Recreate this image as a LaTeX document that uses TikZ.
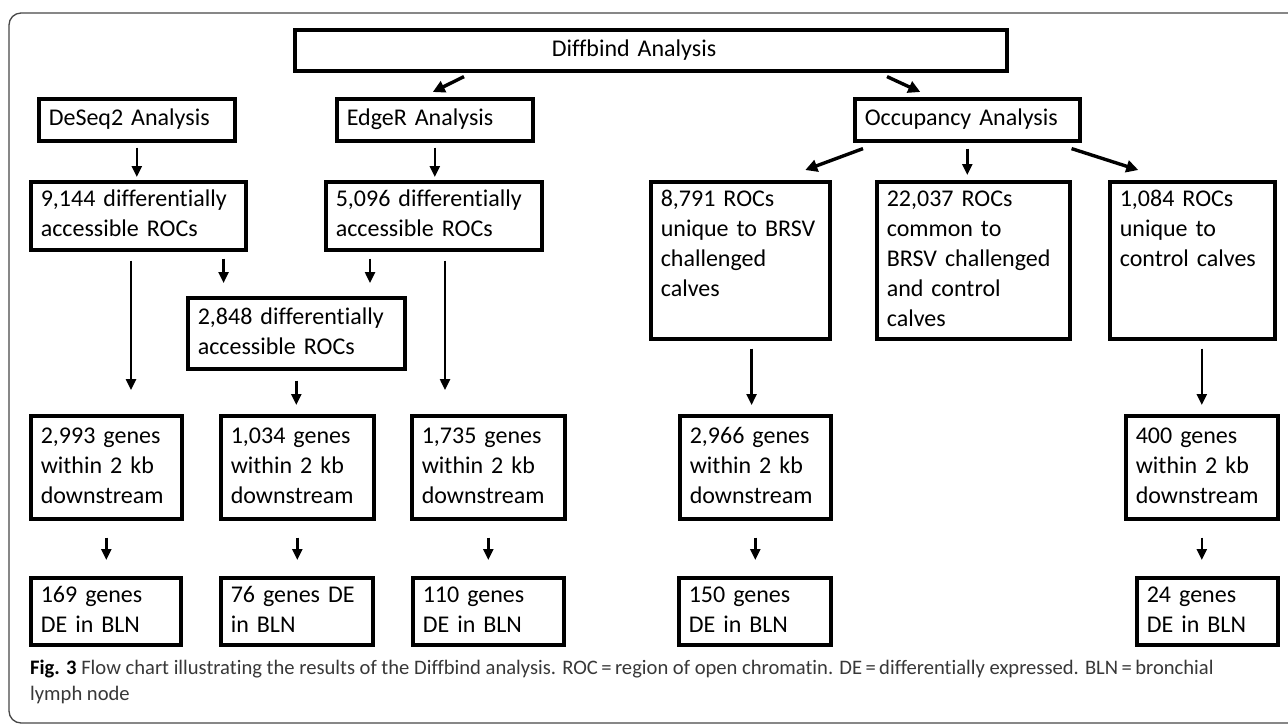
\documentclass[tikz,border=0pt]{standalone}
\usepackage{fontspec}
\setmainfont{Carlito}[Ligatures=NoCommon]
\usetikzlibrary{arrows.meta,calc}
\begin{document}
\begin{tikzpicture}[x=1pt,y=-1pt,
  bx/.style={draw=black, line width=3.6pt, anchor=north west, inner xsep=10pt, inner ysep=0pt,
    align=left, font=\fontsize{24}{30}\selectfont,
    execute at begin node=\strut, execute at end node=\strut},
  varr/.style={-{Triangle[length=11pt,width=10pt]}, line width=2.4pt},
  darr/.style={-{Triangle[length=12pt,width=12pt]}, line width=3.4pt},
  capt/.style={anchor=west, inner sep=0pt, align=left, text=black!78,
    font=\fontsize{20.6}{26}\selectfont}
]
\useasboundingbox (0,0) rectangle (1288,724);
\fill[white] (0,0) rectangle (1288,724);
% frame
\draw[line width=1.3pt, draw=black!72, rounded corners=12pt] (9,13) rectangle (1330,723);

% row 1
\node[bx, text width=692pt, minimum height=41pt] (diff) at (293,28) {\hspace*{247pt}Diffbind Analysis};
% row 2
\node[bx, text width=176pt, minimum height=42pt] (deseq) at (37,97) {DeSeq2 Analysis};
\node[bx, text width=176pt, minimum height=42pt] (edger) at (335,97) {EdgeR Analysis};
\node[bx, text width=205pt, minimum height=42pt] (occ) at (853,97) {Occupancy Analysis};
% row 3
\node[bx, text width=195pt, minimum height=68pt] (r9144) at (29,180) {9,144 differentially\\accessible ROCs};
\node[bx, text width=196pt, minimum height=68pt] (r5096) at (324,180) {5,096 differentially\\accessible ROCs};
\node[bx, text width=159pt, minimum height=157pt] (r8791) at (649,180) {8,791 ROCs\\unique to BRSV\\challenged\\calves\\\strut};
\node[bx, text width=173pt, minimum height=157pt] (r22037) at (875,180) {22,037 ROCs\\common to\\BRSV challenged\\and control\\calves};
\node[bx, text width=145pt, minimum height=157pt] (r1084) at (1108,180) {1,084 ROCs\\unique to\\control calves\\\strut\\\strut};
\node[bx, text width=197pt, minimum height=71pt] (r2848) at (186,296) {2,848 differentially\\accessible ROCs};
% row 4
\node[bx, text width=131pt, minimum height=103pt] (g2993) at (29,414) {2,993 genes\\within 2 kb\\downstream};
\node[bx, text width=133pt, minimum height=103pt] (g1034) at (219,414) {1,034 genes\\within 2 kb\\downstream};
\node[bx, text width=133pt, minimum height=103pt] (g1735) at (410,414) {1,735 genes\\within 2 kb\\downstream};
\node[bx, text width=131pt, minimum height=103pt] (g2966) at (678,414) {2,966 genes\\within 2 kb\\downstream};
\node[bx, text width=132pt, minimum height=103pt] (g400) at (1124,414) {400 genes\\within 2 kb\\downstream};
% row 5
\node[bx, text width=130pt, minimum height=67pt] (d169) at (29,576) {169 genes\\DE in BLN};
\node[bx, text width=132pt, minimum height=67pt] (d76) at (219,576) {76 genes DE\\in BLN};
\node[bx, text width=131pt, minimum height=67pt] (d110) at (411,576) {110 genes\\DE in BLN};
\node[bx, text width=132pt, minimum height=67pt] (d150) at (677,576) {150 genes\\DE in BLN};
\node[bx, text width=121pt, minimum height=67pt] (d24) at (1135,576) {24 genes\\DE in BLN};

% diagonal arrows
\coordinate (t1) at ($(diff.south west)+(171,4)$);
\coordinate (t2) at ($(edger.north)+(-2,-5)$);
\coordinate (t3) at ($(diff.south west)+(594,4)$);
\coordinate (t4) at ($(occ.north)+(-47,-5)$);
\coordinate (t5) at ($(occ.south west)+(10,6)$);
\coordinate (t6) at ($(r8791.north)+(65,-10)$);
\coordinate (t7) at ($(occ.south east)+(-10,6)$);
\coordinate (t8) at ($(r1084.north)+(-54,-10)$);
\draw[darr] (t1) -- (t2);
\draw[darr] (t3) -- (t4);
\draw[darr] (t5) -- (t6);
\draw[darr] (t7) -- (t8);
\draw[varr, shorten <=6pt, shorten >=5pt] (occ.south) -- (occ.south |- r22037.north);

% vertical arrows
\draw[varr, shorten <=5pt, shorten >=3pt] (deseq.south) -- (deseq.south |- r9144.north);
\draw[varr, shorten <=5pt, shorten >=3pt] (edger.south) -- (edger.south |- r5096.north);
\coordinate (s1) at ($(r9144.south west)+(102,0)$);
\coordinate (s2) at ($(r9144.south east)+(-24,0)$);
\coordinate (s3) at ($(r5096.south west)+(46,0)$);
\coordinate (s4) at ($(r5096.south west)+(121,0)$);
\coordinate (s5) at ($(r8791.south east)+(-80,0)$);
\draw[varr, shorten <=9pt, shorten >=24pt] (s1) -- (s1 |- g2993.north);
\draw[varr, shorten <=7pt, shorten >=13pt] (s2) -- (s2 |- r2848.north);
\draw[varr, shorten <=7pt, shorten >=13pt] (s3) -- (s3 |- r2848.north);
\draw[varr, shorten <=9pt, shorten >=24pt] (s4) -- (s4 |- g1735.north);
\draw[varr, shorten <=10pt, shorten >=9pt] (r2848.south) -- (r2848.south |- g1034.north);
\draw[varr, shorten <=8pt, shorten >=9pt] (s5) -- (s5 |- g2966.north);
\draw[varr, shorten <=8pt, shorten >=9pt] (r1084.south -| g400.north) -- (g400.north);
% row 4 -> row 5
\draw[varr, shorten <=17pt, shorten >=16pt] (g2993.south) -- (g2993.south |- d169.north);
\draw[varr, shorten <=17pt, shorten >=16pt] (g1034.south) -- (g1034.south |- d76.north);
\draw[varr, shorten <=17pt, shorten >=16pt] (g1735.south) -- (g1735.south |- d110.north);
\draw[varr, shorten <=17pt, shorten >=16pt] (g2966.south) -- (g2966.south |- d150.north);
\draw[varr, shorten <=17pt, shorten >=16pt] (g400.south) -- (g400.south |- d24.north);

% caption
\node[capt] (cap) at (30,682) {\textcolor{black}{\textbf{Fig. 3}} Flow chart illustrating the results of the Diffbind analysis. ROC\,=\,region of open chromatin. DE\,=\,differentially expressed. BLN\,=\,bronchial\\lymph node};
\end{tikzpicture}
\end{document}
